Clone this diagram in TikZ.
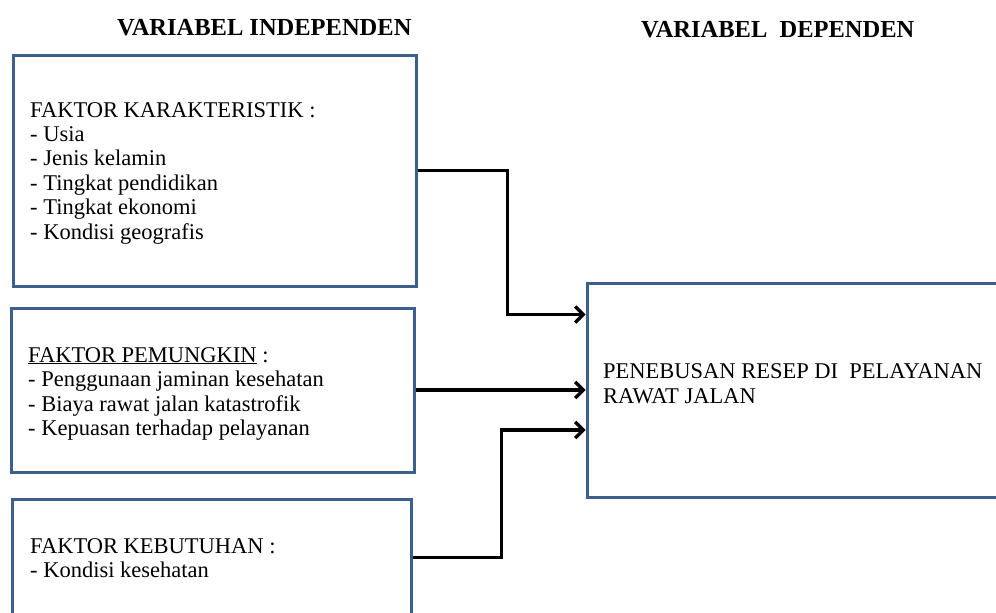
\documentclass[tikz,border=0pt]{standalone}
\usepackage{fontspec}
\setmainfont{Liberation Serif}
\usetikzlibrary{arrows.meta,calc}
\definecolor{boxblue}{RGB}{60,96,140}
\begin{document}
\begin{tikzpicture}[x=1pt,y=-1pt,
  box/.style={draw=boxblue,line width=3pt,inner sep=0pt,rectangle},
  txt/.style={anchor=base west,inner sep=0pt,font=\fontsize{22.5}{24.5}\selectfont},
  ttl/.style={anchor=base west,inner sep=0pt,font=\fontsize{24.5}{28}\selectfont\bfseries},
  conn/.style={line width=3.2pt,-{Straight Barb[length=8pt,width=16pt]}}]
\useasboundingbox (0,0) rectangle (996,613);
\clip (0,0) rectangle (996,613);
% titles
\node[ttl] (tind) at (117,35) {VARIABEL INDEPENDEN};
\node[ttl] (tdep) at (641,37) {VARIABEL\ \ DEPENDEN};
% boxes
\node[box,minimum width=403pt,minimum height=231pt] (b1) at (214.5,170.5) {};
\node[box,minimum width=403pt,minimum height=164pt] (b2) at (212.5,390) {};
\node[box,minimum width=399pt,minimum height=117pt] (b3) at (211.5,557.5) {};
\node[box,minimum width=423pt,minimum height=214pt] (b4) at (798.5,390) {};
% box 1 text
\node[txt] (k0) at (30,117) {FAKTOR KARAKTERISTIK :};
\node[txt] (k1) at (30,141.4) {- Usia};
\node[txt] (k2) at (30,165.8) {- Jenis kelamin};
\node[txt] (k3) at (30,190.2) {- Tingkat pendidikan};
\node[txt] (k4) at (30,214.6) {- Tingkat ekonomi};
\node[txt] (k5) at (30,239) {- Kondisi geografis};
% box 2 text
\node[txt] (p0) at (28,362) {\underline{FAKTOR PEMUNGKIN} :};
\node[txt] (p1) at (28,386.5) {- Penggunaan jaminan kesehatan};
\node[txt] (p2) at (28,411) {- Biaya rawat jalan katastrofik};
\node[txt] (p3) at (28,435) {- Kepuasan terhadap pelayanan};
% box 3 text
\node[txt] (n0) at (30,553) {FAKTOR KEBUTUHAN :};
\node[txt] (n1) at (30,577) {- Kondisi kesehatan};
% box 4 text
\node[txt] (d0) at (603,378) {PENEBUSAN RESEP DI\ \ PELAYANAN};
\node[txt] (d1) at (603,403) {RAWAT JALAN};
% connectors
\draw[conn] (b1.east) -- ++(90,0) |- ($(b4.north west)+(0,33)$);
\draw[conn] (b2.east) -- (b2.east -| b4.west);
\draw[conn] (b3.east) -- ++(89,0) |- ($(b4.west)+(0,40)$);
\end{tikzpicture}
\end{document}
